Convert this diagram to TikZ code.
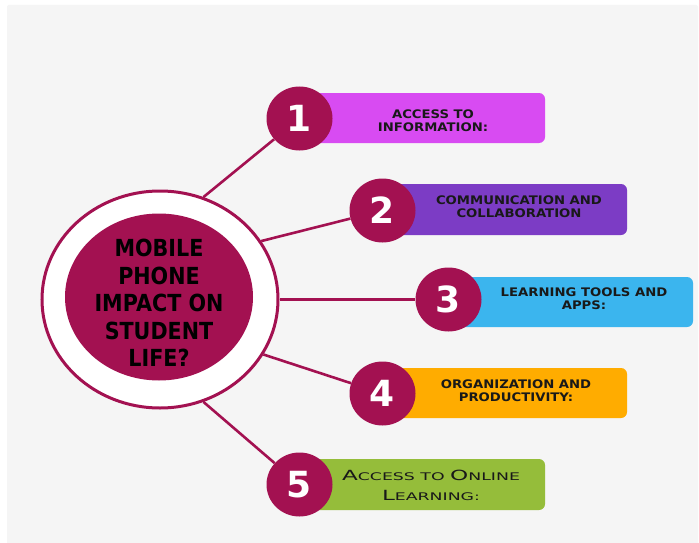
\documentclass[tikz,border=0pt]{standalone}
\usepackage{fontspec}
\usetikzlibrary{shapes.geometric}
\newfontfamily\titlefont[FakeStretch=0.88]{DejaVu Sans}
\newfontfamily\boxfont[FakeStretch=1.12]{DejaVu Sans}
\newfontfamily\numfont{DejaVu Sans}
\newfontfamily\scfont[FakeStretch=1.65]{DejaVu Sans}
\definecolor{crim}{HTML}{A31151}
\definecolor{bgc}{HTML}{F5F5F5}
\definecolor{cA}{HTML}{D84BF2}
\definecolor{cB}{HTML}{7C3CC5}
\definecolor{cC}{HTML}{3BB5EE}
\definecolor{cD}{HTML}{FFAC00}
\definecolor{cE}{HTML}{95BD3A}
\tikzset{
  numc/.style={ellipse, fill=crim, minimum width=66pt, minimum height=64pt, inner sep=0pt,
     text=white, font=\fontsize{36}{36}\selectfont\numfont\bfseries},
  bar/.style={rounded corners=6pt},
  link/.style={draw=crim, line width=2.6pt},
  btext/.style={align=center, font=\fontsize{11.8}{13.2}\selectfont\boxfont\bfseries, text=black!90},
}
\begin{document}
\begin{tikzpicture}[x=1pt,y=-1pt]
\useasboundingbox (0,0) rectangle (699,543);
\fill[white] (0,0) rectangle (699,543);
\fill[bgc, rounded corners=2pt] (7,5) rectangle (698,545);
% bars
\fill[cA,bar] (300,93) rectangle (545,143);
\fill[cB,bar] (382,184) rectangle (627,235);
\fill[cC,bar] (448,277) rectangle (693,327);
\fill[cD,bar] (382,368) rectangle (627,418);
\fill[cE,bar] (300,459) rectangle (545,510);
% central
\node[ellipse, draw=crim, line width=3pt, fill=white, minimum width=236pt, minimum height=217pt] (outer) at (160,299.5) {};
\node[ellipse, fill=crim, minimum width=188pt, minimum height=167pt] (inner) at (159,297) {};
\node[align=center, font=\fontsize{23.5}{27.5}\selectfont\titlefont\bfseries] (title) at (159,303) {MOBILE\\PHONE\\IMPACT ON\\STUDENT\\LIFE?};
% number circles
\node[numc] (c1) at (299.5,118.5) {1};
\node[numc] (c2) at (382.5,210.5) {2};
\node[numc] (c3) at (448.5,299.5) {3};
\node[numc] (c4) at (382.5,393.5) {4};
\node[numc] (c5) at (299.5,484.5) {5};
% connectors
\draw[link] (outer.67) -- (c1);
\draw[link] (outer.30) -- (c2);
\draw[link] (outer.0) -- (c3);
\draw[link] (outer.-28) -- (c4);
\draw[link] (outer.-67) -- (c5);
% texts
\node[btext] (t1) at (433,121) {ACCESS TO\\INFORMATION:};
\node[btext] (t2) at (519,207) {COMMUNICATION AND\\COLLABORATION};
\node[btext] (t3) at (584,299) {LEARNING TOOLS AND\\APPS:};
\node[btext] (t4) at (516,391) {ORGANIZATION AND\\PRODUCTIVITY:};
\node[align=center, font=\fontsize{10.5}{20}\selectfont\scfont, text=black!90] (t5) at (431,485)
  {{\fontsize{14}{20}\selectfont A}CCESS TO {\fontsize{14}{20}\selectfont O}NLINE\\{\fontsize{14}{20}\selectfont L}EARNING:};
\end{tikzpicture}
\end{document}
